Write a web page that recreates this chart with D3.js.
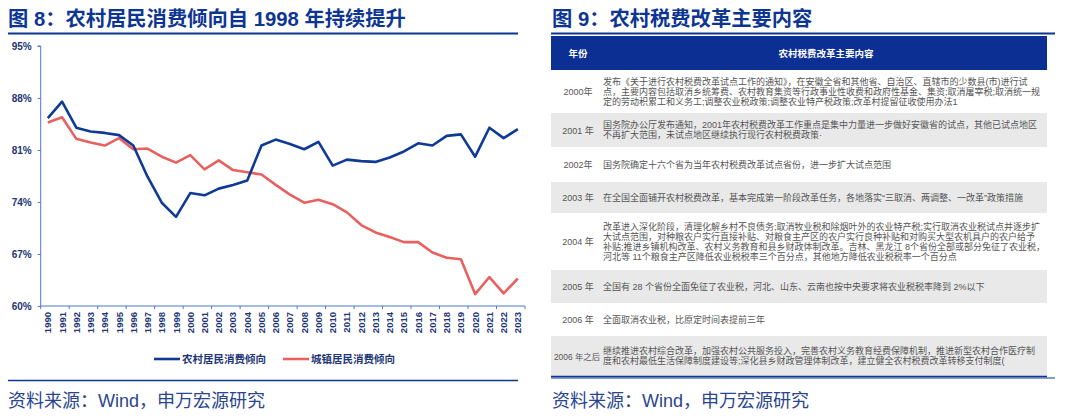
<!DOCTYPE html>
<html>
<head>
<meta charset="utf-8">
<script src="https://cdn.jsdelivr.net/npm/d3@7"></script>
<style>
  body { margin: 0; background: #fff; }
  svg { display: block; font-family: "Liberation Sans", Arial, "Noto Sans CJK SC", sans-serif; }
</style>
</head>
<body>
<div id="chart"></div>
<script>
// data
var years = d3.range(1990, 2024).map(String);
var ruralRatio = [85.3, 87.5, 84.0, 83.5, 83.3, 83.0, 81.6, 77.4, 73.9, 72.0,
  75.2, 74.9, 75.8, 76.3, 76.9, 81.6, 82.4, 81.8, 81.1, 82.1,
  78.9, 79.7, 79.5, 79.4, 80.0, 80.8, 81.9, 81.6, 82.9, 83.1,
  80.1, 84.0, 82.6, 83.8];
var urbanRatio = [84.7, 85.4, 82.5, 82.0, 81.6, 82.6, 81.1, 81.2, 80.1, 79.3,
  80.3, 78.4, 79.6, 78.3, 78.0, 77.7, 76.3, 75.0, 73.9, 74.3,
  73.7, 72.6, 70.9, 69.9, 69.3, 68.6, 68.6, 67.2, 66.5, 66.3,
  61.6, 63.9, 61.7, 63.7];
var yTicks = [60, 67, 74, 81, 88, 95];
var seriesNames = ["农村居民消费倾向", "城镇居民消费倾向"];

var leftTitle = "图 8：农村居民消费倾向自 1998 年持续提升";
var rightTitle = "图 9：农村税费改革主要内容";
var sourceText = "资料来源：Wind，申万宏源研究";

var tableHeader = ["年份", "农村税费改革主要内容"];
var tableYears = ["2000年", "2001 年", "2002年", "2003 年", "2004 年", "2005 年", "2006 年", "2006 年之后"];
var tableContent = [
  ["发布《关于进行农村税费改革试点工作的通知》，在安徽全省和其他省、自治区、直辖市的少数县(市)进行试",
   "点，主要内容包括取消乡统筹费、农村教育集资等行政事业性收费和政府性基金、集资;取消屠宰税;取消统一规",
   "定的劳动积累工和义务工;调整农业税政策;调整农业特产税政策;改革村提留征收使用办法1"],
  ["国务院办公厅发布通知，2001年农村税费改革工作重点是集中力量进一步做好安徽省的试点，其他已试点地区",
   "不再扩大范围，未试点地区继续执行现行农村税费政策·"],
  ["国务院确定十六个省为当年农村税费改革试点省份，进一步扩大试点范围"],
  ["在全国全面铺开农村税费改革，基本完成第一阶段改革任务，各地落实“三取消、两调整、一改革”政策措施"],
  ["改革进入深化阶段，清理化解乡村不良债务;取消牧业税和除烟叶外的农业特产税;实行取消农业税试点并逐步扩",
   "大试点范围，对种粮农户实行直接补贴、对粮食主产区的农户实行良种补贴和对购买大型农机具户的农户给予",
   "补贴;推进乡镇机构改革、农村义务教育和县乡财政体制改革。吉林、黑龙江 8个省份全部或部分免征了农业税，",
   "河北等 11个粮食主产区降低农业税税率三个百分点，其他地方降低农业税税率一个百分点"],
  ["全国有 28 个省份全面免征了农业税，河北、山东、云南也按中央要求将农业税税率降到 2%以下"],
  ["全面取消农业税，比原定时间表提前三年"],
  ["继续推进农村综合改革，加强农村公共服务投入，完善农村义务教育经费保障机制，推进新型农村合作医疗制",
   "度和农村最低生活保障制度建设等;深化县乡财政管理体制改革，建立健全农村税费改革转移支付制度("]
];

// layout
var W = 1080, H = 418;
var navy = "#0d3592", blueLine = "#0e3a96", redLine = "#e8615f", axisBlue = "#4a78cf";
var labelBlue = "#1d3577", sourceBlue = "#2a4590";
var rowHeights = [43, 34, 35, 31, 57, 33, 33, 40];

var svg = d3.select("#chart").append("svg")
  .attr("width", W)
  .attr("height", H);

// ---------- left panel ----------
svg.append("text")
  .attr("x", 8).attr("y", 26)
  .attr("font-size", 20.3).attr("font-weight", "bold")
  .attr("fill", navy)
  .text(leftTitle);

svg.append("line")
  .attr("x1", 8).attr("x2", 518).attr("y1", 33.5).attr("y2", 33.5)
  .attr("stroke", navy).attr("stroke-width", 2);

var x = d3.scaleBand().domain(years).range([40.7, 525]);
var y = d3.scaleLinear().domain([60, 95]).range([306, 46]);

var yAxis = svg.append("g")
  .attr("transform", "translate(40.7,0)")
  .call(d3.axisLeft(y).tickValues(yTicks).tickSize(3).tickFormat(function (d) { return d + "%"; }));
yAxis.select(".domain").attr("stroke", axisBlue).attr("d", "M-3,46H0V306");
yAxis.selectAll(".tick line").attr("stroke", axisBlue);
yAxis.selectAll(".tick text")
  .attr("x", -9)
  .attr("font-size", 10).attr("font-weight", "bold")
  .attr("font-family", "Liberation Sans, Arial, sans-serif")
  .attr("fill", labelBlue);

// x axis: line, ticks every two years, rotated labels
var xAxis = svg.append("g");
xAxis.append("line")
  .attr("x1", x.range()[0]).attr("x2", x.range()[1])
  .attr("y1", 306).attr("y2", 306)
  .attr("stroke", axisBlue);
var tickPos = years.filter(function (d, i) { return i % 2 === 0; }).map(function (d) { return x(d); });
tickPos.push(x.range()[1]);
xAxis.selectAll(".xtick").data(tickPos).enter()
  .append("line")
  .attr("x1", function (d) { return d; }).attr("x2", function (d) { return d; })
  .attr("y1", 306).attr("y2", 309)
  .attr("stroke", axisBlue);
xAxis.selectAll(".xlabel").data(years).enter()
  .append("text")
  .attr("transform", function (d) {
    return "translate(" + (x(d) + x.bandwidth() / 2 + 3.5) + ",312) rotate(-90)";
  })
  .attr("text-anchor", "end")
  .attr("font-size", 9.5).attr("font-weight", "bold")
  .attr("fill", labelBlue)
  .text(function (d) { return d; });

var line = d3.line()
  .x(function (d, i) { return x(years[i]) + x.bandwidth() / 2; })
  .y(function (d) { return y(d); });

svg.append("path")
  .datum(urbanRatio)
  .attr("d", line)
  .attr("fill", "none").attr("stroke", redLine).attr("stroke-width", 2.6)
  .attr("stroke-linejoin", "round");
svg.append("path")
  .datum(ruralRatio)
  .attr("d", line)
  .attr("fill", "none").attr("stroke", blueLine).attr("stroke-width", 2.6)
  .attr("stroke-linejoin", "round");

// legend
var legend = svg.append("g").attr("transform", "translate(154,359)");
[{ x: 0, c: blueLine }, { x: 129, c: redLine }].forEach(function (l, i) {
  legend.append("line")
    .attr("x1", l.x).attr("x2", l.x + 26).attr("y1", 0).attr("y2", 0)
    .attr("stroke", l.c).attr("stroke-width", 2.6);
  legend.append("text")
    .attr("x", l.x + 28).attr("y", 4)
    .attr("font-size", 10.5).attr("font-weight", "bold")
    .attr("fill", labelBlue)
    .text(seriesNames[i]);
});

svg.append("line")
  .attr("x1", 8).attr("x2", 518).attr("y1", 380.5).attr("y2", 380.5)
  .attr("stroke", navy).attr("stroke-width", 1.5);
svg.append("text")
  .attr("x", 8).attr("y", 407)
  .attr("font-size", 18)
  .attr("fill", sourceBlue)
  .text(sourceText);

// ---------- right panel ----------
svg.append("text")
  .attr("x", 552).attr("y", 26)
  .attr("font-size", 20.3).attr("font-weight", "bold")
  .attr("fill", navy)
  .text(rightTitle);
svg.append("line")
  .attr("x1", 551).attr("x2", 1055).attr("y1", 33.5).attr("y2", 33.5)
  .attr("stroke", navy).attr("stroke-width", 2);

var tX0 = 551, tX1 = 1047, yearCx = 578, textX = 603;
var tableTop = 36, headH = 34;

svg.append("rect")
  .attr("x", tX0).attr("y", tableTop)
  .attr("width", tX1 - tX0).attr("height", headH)
  .attr("fill", "#0b2f93");
svg.append("text")
  .attr("x", yearCx).attr("y", tableTop + headH / 2 + 3.5)
  .attr("text-anchor", "middle")
  .attr("font-size", 9.5).attr("font-weight", "bold").attr("fill", "#fff")
  .text(tableHeader[0]);
svg.append("text")
  .attr("x", 826).attr("y", tableTop + headH / 2 + 3.5)
  .attr("text-anchor", "middle")
  .attr("font-size", 9.5).attr("font-weight", "bold").attr("fill", "#fff")
  .text(tableHeader[1]);

var rowY = [];
var acc = tableTop + headH;
rowHeights.forEach(function (h) { rowY.push(acc); acc += h; });

var rows = svg.selectAll(".row").data(tableYears).enter()
  .append("g")
  .attr("transform", function (d, i) { return "translate(0," + rowY[i] + ")"; });

rows.append("rect")
  .attr("x", tX0).attr("y", 0)
  .attr("width", tX1 - tX0)
  .attr("height", function (d, i) { return rowHeights[i]; })
  .attr("fill", function (d, i) { return i % 2 ? "#e9e9e9" : "#fff"; });

// long year labels are squeezed to fit the first column
rows.append("text")
  .attr("x", function (d) { return d.length > 6 ? 577 : yearCx; })
  .attr("y", function (d, i) { return rowHeights[i] / 2 + 3.5; })
  .attr("text-anchor", "middle")
  .attr("font-size", function (d) { return d.length > 6 ? 8.4 : 9; })
  .attr("fill", "#555")
  .text(function (d) { return d; });

rows.each(function (d, i) {
  var lines = tableContent[i];
  var g = d3.select(this);
  var start = rowHeights[i] / 2 - (lines.length - 1) * 5;
  g.selectAll(".ln").data(lines).enter()
    .append("text")
    .attr("x", textX)
    .attr("y", function (t, j) { return start + j * 10 + 3.2; })
    .attr("font-size", 9)
    .attr("fill", "#555")
    .text(function (t) { return t; });
});

svg.append("line")
  .attr("x1", tX0).attr("x2", tX1).attr("y1", acc + 0.5).attr("y2", acc + 0.5)
  .attr("stroke", navy).attr("stroke-width", 1.5);
svg.append("line")
  .attr("x1", tX0).attr("x2", 1055).attr("y1", acc + 2).attr("y2", acc + 2)
  .attr("stroke", navy).attr("stroke-width", 1);

svg.append("text")
  .attr("x", 552).attr("y", 407)
  .attr("font-size", 18)
  .attr("fill", sourceBlue)
  .text(sourceText);
</script>
</body>
</html>
